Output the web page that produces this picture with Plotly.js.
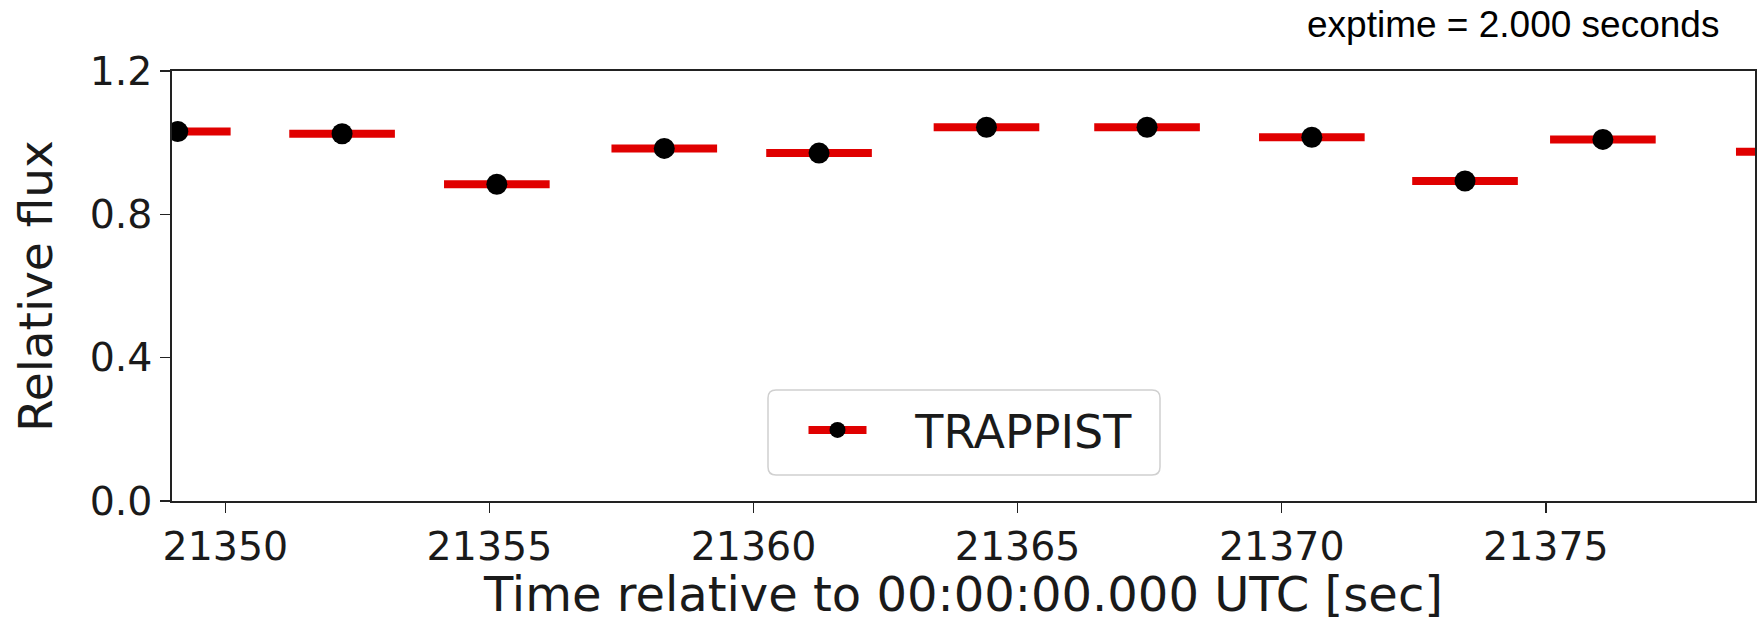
<!DOCTYPE html>
<html>
<head>
<meta charset="utf-8">
<script src="https://cdn.plot.ly/plotly-3.0.1.min.js"></script>
<style>
  html, body { margin: 0; padding: 0; background: #ffffff; }
  #chart { width: 1760px; height: 622px; }
</style>
</head>
<body>
<div id="chart"></div>
<script>
// Mid-exposure times (seconds after 00:00:00.000 UTC)
const times = [21349.10, 21352.21, 21355.14, 21358.31, 21361.24, 21364.41, 21367.45, 21370.57, 21373.47, 21376.08, 21379.60];
// Normalised flux of each frame
const flux = [1.031, 1.025, 0.884, 0.984, 0.971, 1.043, 1.043, 1.015, 0.893, 1.009, 0.975];
// Half of the 2.000 s exposure, drawn as the horizontal bar
const halfExposure = [1.0, 1.0, 1.0, 1.0, 1.0, 1.0, 1.0, 1.0, 1.0, 1.0, 1.0];

const seriesName = 'TRAPPIST';
const exposureLabel = 'exptime = 2.000 seconds';
const xTicks = [21350, 21355, 21360, 21365, 21370, 21375];
const yTicks = [0.0, 0.4, 0.8, 1.2];

const barColor = '#e00000';
const dotColor = '#000000';
const inkColor = '#1a1a1a';
const mplFont = 'DejaVu Sans, sans-serif';

// Figure geometry (px)
const W = 1760, H = 622;
const M = { l: 172, r: 5, t: 71, b: 121 };
const plotW = W - M.l - M.r;
const plotH = H - M.t - M.b;
const px2x = p => (p - M.l) / plotW;
const px2y = p => (H - M.b - p) / plotH;

// Rounded frame behind the legend entry
function roundedBox(left, top, right, bottom, r) {
  const x0 = px2x(left), x1 = px2x(right);
  const y0 = px2y(bottom), y1 = px2y(top);
  const rx = r / plotW, ry = r / plotH;
  return `M${x0 + rx},${y1} L${x1 - rx},${y1} Q${x1},${y1} ${x1},${y1 - ry} ` +
         `L${x1},${y0 + ry} Q${x1},${y0} ${x1 - rx},${y0} ` +
         `L${x0 + rx},${y0} Q${x0},${y0} ${x0},${y0 + ry} ` +
         `L${x0},${y1 - ry} Q${x0},${y1} ${x0 + rx},${y1} Z`;
}

const data = [
  {
    type: 'scatter',
    mode: 'markers',
    x: times,
    y: flux,
    showlegend: false,
    marker: { color: dotColor, size: 21 },
    error_x: { type: 'data', array: halfExposure, visible: true, color: barColor, thickness: 8, width: 0 },
    hoverinfo: 'x+y'
  },
  // legend entry: red bar with a black dot, no points of its own
  {
    type: 'scatter',
    mode: 'lines+markers',
    x: [null],
    y: [null],
    name: '\u00a0\u00a0\u00a0' + seriesName,
    line: { color: barColor, width: 8 },
    marker: { color: dotColor, size: 21 },
    hoverinfo: 'skip'
  }
];

const axisCommon = {
  showline: true,
  mirror: true,
  linecolor: '#222222',
  linewidth: 1.6,
  ticks: 'outside',
  ticklen: 10,
  tickwidth: 1.5,
  tickcolor: '#222222',
  showgrid: false,
  zeroline: false,
  tickfont: { family: mplFont, size: 39.5, color: inkColor }
};

const layout = {
  width: W,
  height: H,
  margin: M,
  paper_bgcolor: '#ffffff',
  plot_bgcolor: '#ffffff',
  font: { family: mplFont, color: inkColor },
  xaxis: Object.assign({}, axisCommon, {
    range: [21348.99, 21378.96],
    tickvals: xTicks,
    tickformat: 'd',
    title: { text: 'Time relative to 00:00:00.000 UTC [sec]', font: { family: mplFont, size: 48, color: inkColor }, standoff: 5 }
  }),
  yaxis: Object.assign({}, axisCommon, {
    range: [0, 1.2],
    tickvals: yTicks,
    tickformat: '.1f',
    title: { text: 'Relative flux', font: { family: mplFont, size: 47, color: inkColor }, standoff: 22 }
  }),
  showlegend: true,
  legend: {
    x: px2x(803.5),
    y: px2y(393.5),
    xanchor: 'left',
    yanchor: 'top',
    bgcolor: 'rgba(0,0,0,0)',
    borderwidth: 0,
    itemwidth: 58,
    font: { family: mplFont, size: 46, color: inkColor }
  },
  shapes: [
    {
      type: 'path',
      xref: 'paper', yref: 'paper',
      path: roundedBox(768, 390, 1160, 475, 8),
      fillcolor: 'rgba(255,255,255,0.8)',
      line: { color: '#d0d0d0', width: 1.5 },
      layer: 'above'
    }
  ],
  annotations: [
    {
      text: exposureLabel,
      xref: 'paper', yref: 'paper',
      x: px2x(1721), y: px2y(25),
      xanchor: 'right', yanchor: 'middle',
      showarrow: false,
      font: { family: 'Liberation Sans, Arial, sans-serif', size: 37, color: '#000000' }
    }
  ]
};

Plotly.newPlot('chart', data, layout, { staticPlot: true, displayModeBar: false });
</script>
</body>
</html>
